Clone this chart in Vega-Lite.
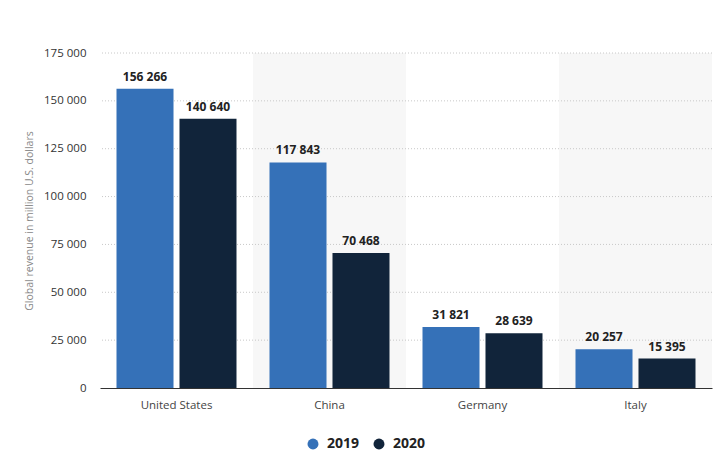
{
  "$schema": "https://vega.github.io/schema/vega-lite/v6.json",
  "width": 612,
  "height": 335,
  "autosize": {"type": "none"},
  "padding": {"left": 100, "top": 53, "right": 1, "bottom": 73},
  "background": "#ffffff",
  "config": {
    "locale": {"number": {"decimal": ".", "thousands": " ", "grouping": [3], "currency": ["", ""]}},
    "font": "Open Sans",
    "view": {"stroke": null}
  },
  "datasets": {
    "rev": [
      {"country": "United States", "year": "2019", "revenue": 156266},
      {"country": "United States", "year": "2020", "revenue": 140640},
      {"country": "China", "year": "2019", "revenue": 117843},
      {"country": "China", "year": "2020", "revenue": 70468},
      {"country": "Germany", "year": "2019", "revenue": 31821},
      {"country": "Germany", "year": "2020", "revenue": 28639},
      {"country": "Italy", "year": "2019", "revenue": 20257},
      {"country": "Italy", "year": "2020", "revenue": 15395}
    ],
    "bands": [
      {"country": "China"},
      {"country": "Italy"}
    ],
    "grid": [
      {"value": 25000}, {"value": 50000}, {"value": 75000}, {"value": 100000},
      {"value": 125000}, {"value": 150000}, {"value": 175000}
    ]
  },
  "layer": [
    {
      "data": {"name": "bands"},
      "mark": {"type": "rect", "color": "#f7f7f7"},
      "encoding": {
        "x": {"field": "country", "type": "nominal", "sort": ["United States", "China", "Germany", "Italy"], "scale": {"paddingInner": 0, "paddingOuter": 0}},
        "y": {"datum": 175000, "type": "quantitative"},
        "y2": {"datum": 0}
      }
    },
    {
      "data": {"name": "grid"},
      "mark": {"type": "rule", "color": "#c8c8c8", "strokeDash": [1, 2], "strokeWidth": 1},
      "encoding": {
        "y": {"field": "value", "type": "quantitative"}
      }
    },
    {
      "data": {"name": "rev"},
      "mark": {"type": "bar"},
      "encoding": {
        "x": {
          "field": "country", "type": "nominal",
          "sort": ["United States", "China", "Germany", "Italy"],
          "scale": {"paddingInner": 0, "paddingOuter": 0},
          "axis": {"title": null, "labelAngle": 0, "labelAlign": "center", "labelBaseline": "middle", "labelColor": "#444444", "labelFontSize": 11.5, "labelPadding": 17, "ticks": false, "domainColor": "#333333", "domainWidth": 1}
        },
        "xOffset": {"field": "year", "type": "nominal", "scale": {"paddingInner": 0.095, "paddingOuter": 0.262}},
        "y": {
          "field": "revenue", "type": "quantitative",
          "scale": {"domain": [0, 175000], "nice": false},
          "axis": {
            "title": "Global revenue in million U.S. dollars",
            "titleColor": "#888888", "titleFontSize": 10.5, "titleFontWeight": "normal", "titlePadding": 9,
            "values": [0, 25000, 50000, 75000, 100000, 125000, 150000, 175000],
            "format": ",d", "labelColor": "#333333", "labelFontSize": 11.5, "labelPadding": 14,
            "ticks": false, "domain": false, "grid": false
          }
        },
        "color": {
          "field": "year", "type": "nominal",
          "scale": {"domain": ["2019", "2020"], "range": ["#3571b8", "#11243a"]},
          "legend": {
            "title": null, "orient": "none", "direction": "horizontal",
            "legendX": 206, "legendY": 384,
            "symbolType": "circle", "symbolSize": 120, "labelFontSize": 14, "labelFontWeight": "bold", "labelColor": "#222222", "columnPadding": 12, "labelOffset": 7
          }
        }
      }
    },
    {
      "data": {"name": "rev"},
      "mark": {"type": "text", "baseline": "alphabetic", "dy": -8, "fontWeight": "bold", "fontSize": 12, "color": "#222222"},
      "encoding": {
        "x": {"field": "country", "type": "nominal", "sort": ["United States", "China", "Germany", "Italy"]},
        "xOffset": {"field": "year", "type": "nominal"},
        "y": {"field": "revenue", "type": "quantitative"},
        "text": {"field": "revenue", "type": "quantitative", "format": ",d"}
      }
    }
  ]
}
